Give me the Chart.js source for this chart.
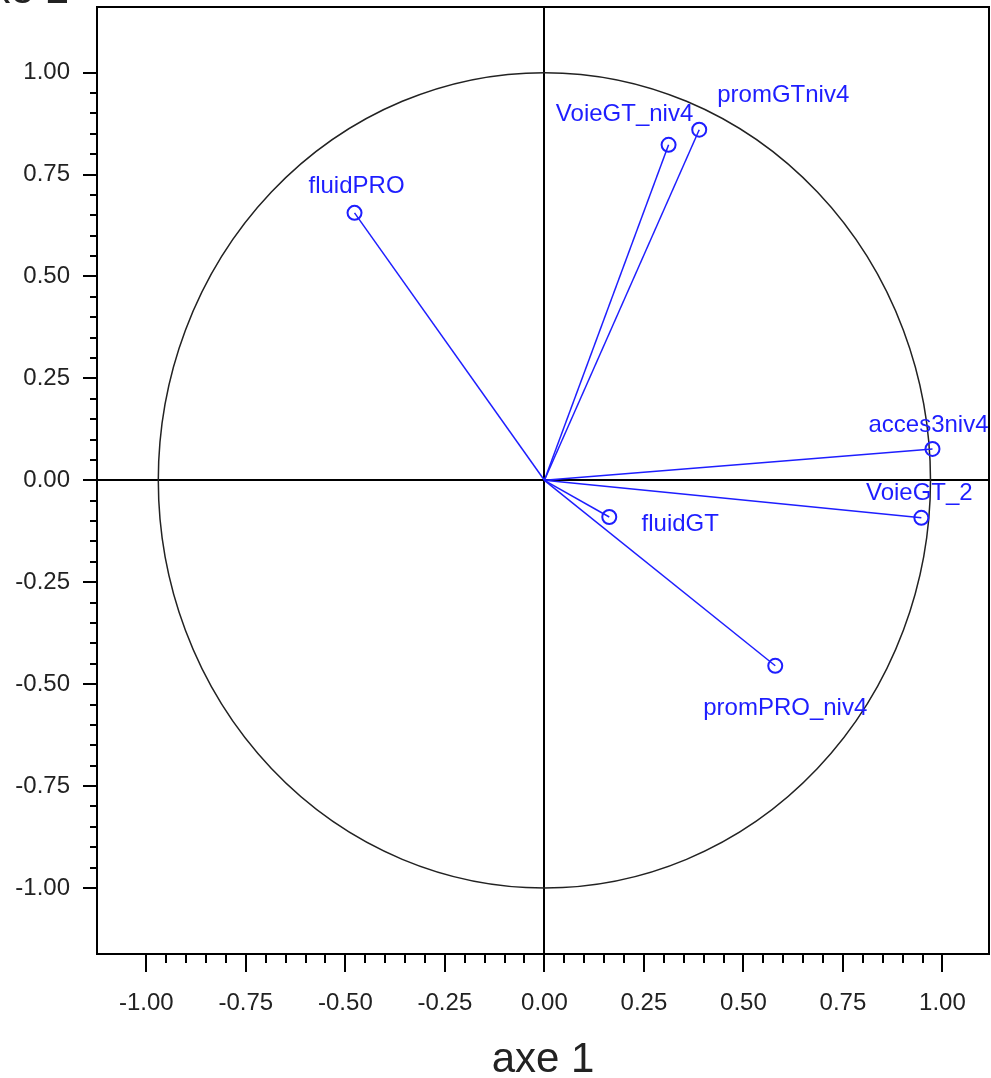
<!DOCTYPE html>
<html>
<head>
<meta charset="utf-8">
<title>axe 1 / axe 2</title>
<script src="https://cdn.jsdelivr.net/npm/chart.js@4.4.0/dist/chart.umd.min.js"></script>
<style>
  body { margin: 0; background: #fff; }
  canvas { display: block; }
</style>
</head>
<body>
<canvas id="myChart" width="991" height="1078"></canvas>
<script>
// variables (correlation circle)
const varNames = ["fluidPRO", "VoieGT_niv4", "promGTniv4", "acces3niv4", "VoieGT_2", "fluidGT", "promPRO_niv4"];
const axe1 = [-0.477, 0.312, 0.389, 0.975, 0.947, 0.163, 0.580];
const axe2 = [0.656, 0.823, 0.860, 0.077, -0.092, -0.090, -0.455];

const xTicks = [-1.00, -0.75, -0.50, -0.25, 0.00, 0.25, 0.50, 0.75, 1.00];
const yTicks = [-1.00, -0.75, -0.50, -0.25, 0.00, 0.25, 0.50, 0.75, 1.00];

const FONT = '"Liberation Sans", Arial, sans-serif';
const BLUE = "#1e1eff";

// where each label sits relative to its point (px)
const labelOffset = {
    fluidPRO: [2, -26],
    VoieGT_niv4: [-44, -30],
    promGTniv4: [84, -34],
    acces3niv4: [-4, -24],
    VoieGT_2: [-2, -24],
    fluidGT: [71, 7],
    promPRO_niv4: [10, 43]
};

const datasets = varNames.map((name, i) => ({
    label: name,
    data: [{ x: 0, y: 0 }, { x: axe1[i], y: axe2[i] }],
    showLine: true,
    borderColor: BLUE,
    borderWidth: 1.5,
    pointRadius: [0, 7],
    pointBorderWidth: 2,
    pointBorderColor: BLUE,
    pointBackgroundColor: "rgba(0,0,0,0)"
}));

// the circle in the original is a bit narrower than the x unit
const circlePlugin = {
    id: "circle",
    beforeDatasetsDraw(chart) {
        const ctx = chart.ctx;
        const xs = chart.scales.x, ys = chart.scales.y;
        const x0 = xs.getPixelForValue(0), y0 = ys.getPixelForValue(0);
        const rx = xs.getPixelForValue(0.97) - x0;
        const ry = y0 - ys.getPixelForValue(1);
        ctx.save();
        ctx.strokeStyle = "#222";
        ctx.lineWidth = 1.5;
        ctx.beginPath();
        ctx.ellipse(x0, y0, rx, ry, 0, 0, Math.PI * 2);
        ctx.stroke();
        ctx.restore();
    }
};

const framePlugin = {
    id: "frame",
    afterDraw(chart) {
        const ctx = chart.ctx;
        const a = chart.chartArea;
        const xs = chart.scales.x, ys = chart.scales.y;
        ctx.save();
        ctx.strokeStyle = "#000";
        ctx.lineWidth = 2;
        ctx.strokeRect(a.left, a.top, a.right - a.left, a.bottom - a.top);
        // minor ticks every 0.05
        ctx.beginPath();
        for (let i = -20; i <= 20; i++) {
            if (i % 5 === 0) continue;
            const px = Math.round(xs.getPixelForValue(i / 20));
            ctx.moveTo(px, a.bottom);
            ctx.lineTo(px, a.bottom + 9);
            const py = Math.round(ys.getPixelForValue(i / 20));
            ctx.moveTo(a.left, py);
            ctx.lineTo(a.left - 7, py);
        }
        ctx.stroke();
        // y axis title, mostly outside the picture
        ctx.fillStyle = "#222";
        ctx.font = "42px " + FONT;
        ctx.textAlign = "right";
        ctx.textBaseline = "alphabetic";
        ctx.fillText("axe 2", 69, 3);
        ctx.restore();
    }
};

const labelPlugin = {
    id: "varLabels",
    afterDatasetsDraw(chart) {
        const ctx = chart.ctx;
        ctx.save();
        ctx.fillStyle = BLUE;
        ctx.font = "24px " + FONT;
        ctx.textAlign = "center";
        ctx.textBaseline = "middle";
        chart.data.datasets.forEach((ds, i) => {
            const pt = chart.getDatasetMeta(i).data[1];
            const off = labelOffset[ds.label];
            ctx.fillText(ds.label, pt.x + off[0], pt.y + off[1]);
        });
        ctx.restore();
    }
};

function noPad(s) {
    s.paddingTop = 0;
    s.paddingBottom = 0;
    s.paddingLeft = 0;
    s.paddingRight = 0;
}

const config = {
    type: "scatter",
    data: { datasets },
    options: {
        responsive: false,
        animation: false,
        layout: { autoPadding: false, padding: { top: 7, right: 2, left: 0, bottom: 0 } },
        plugins: {
            legend: { display: false },
            tooltip: { enabled: false }
        },
        scales: {
            x: {
                type: "linear",
                min: -1.124,
                max: 1.117,
                afterBuildTicks: (s) => { s.ticks = xTicks.map(v => ({ value: v })); },
                afterFit: (s) => { s.height = 124; noPad(s); },
                border: { display: false },
                grid: {
                    color: (c) => (c.tick && c.tick.value === 0 ? "#000" : "rgba(0,0,0,0)"),
                    lineWidth: 2,
                    tickColor: "#000",
                    tickWidth: 2,
                    tickLength: 18
                },
                ticks: {
                    font: { family: FONT, size: 24 },
                    color: "#222",
                    padding: 17,
                    maxRotation: 0,
                    autoSkip: false,
                    callback: (v) => Number(v).toFixed(2)
                },
                title: {
                    display: true,
                    text: "axe 1",
                    color: "#222",
                    font: { family: FONT, size: 42, lineHeight: 0.86 },
                    padding: { top: 0, bottom: 0 }
                }
            },
            y: {
                type: "linear",
                min: -1.162,
                max: 1.161,
                afterBuildTicks: (s) => { s.ticks = yTicks.map(v => ({ value: v })); },
                afterFit: (s) => { s.width = 97; noPad(s); },
                border: { display: false },
                grid: {
                    color: (c) => (c.tick && c.tick.value === 0 ? "#000" : "rgba(0,0,0,0)"),
                    lineWidth: 2,
                    tickColor: "#000",
                    tickWidth: 2,
                    tickLength: 14
                },
                ticks: {
                    font: { family: FONT, size: 24 },
                    color: "#222",
                    padding: 13,
                    autoSkip: false,
                    callback: (v) => Number(v).toFixed(2)
                }
            }
        }
    },
    plugins: [circlePlugin, labelPlugin, framePlugin]
};

const myChart = new Chart(document.getElementById("myChart"), config);
</script>
</body>
</html>
